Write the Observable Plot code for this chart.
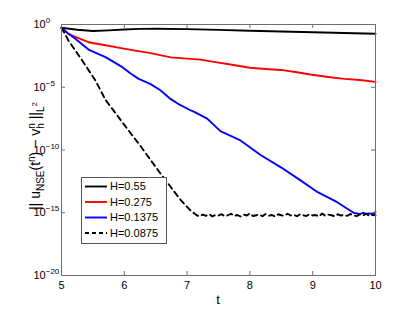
<!DOCTYPE html>
<html><head><meta charset="utf-8">
<script src="https://cdn.jsdelivr.net/npm/d3@7"></script>
<script src="https://cdn.jsdelivr.net/npm/@observablehq/plot@0.6"></script>
<style>body{margin:0;background:#fff} svg{font-family:"Liberation Sans",Arial,sans-serif}</style>
</head><body><div id="chart"></div>
<script>
const xTicks = [5, 6, 7, 8, 9, 10];
const yTickExps = [0, -5, -10, -15, -20];
const legendLabels = ["H=0.55", "H=0.275", "H=0.1375", "H=0.0875"];

// H=0.55 (log10 of error)
const tA = [5, 5.25, 5.5, 5.75, 6, 6.25, 6.5, 7, 7.5, 8, 8.5, 9, 9.5, 10];
const eA = [-0.26, -0.42, -0.52, -0.47, -0.4, -0.35, -0.34, -0.37, -0.43, -0.5, -0.56, -0.62, -0.68, -0.74];
// H=0.275
const tB = [5, 5.1, 5.2, 5.3, 5.43, 5.7, 5.97, 6.2, 6.42, 6.74, 7.0, 7.21, 7.45, 7.69, 8.0, 8.25, 8.49, 8.75, 8.96, 9.28, 9.5, 9.75, 10];
const eB = [-0.26, -0.7, -0.95, -1.15, -1.41, -1.65, -1.9, -2.1, -2.28, -2.62, -2.72, -2.8, -3.0, -3.19, -3.45, -3.55, -3.62, -3.8, -3.98, -4.2, -4.33, -4.42, -4.57];
// H=0.1375
const tC = [5, 5.1, 5.22, 5.43, 5.7, 5.97, 6.1, 6.23, 6.42, 6.58, 6.74, 6.85, 7.06, 7.13, 7.32, 7.53, 7.85, 8.17, 8.5, 8.8, 9.08, 9.39, 9.65, 9.7, 9.75, 9.8, 9.85, 9.9, 9.95, 10];
const eC = [-0.26, -0.7, -1.14, -2.0, -2.6, -3.4, -3.9, -4.33, -4.75, -5.26, -5.95, -6.3, -6.85, -7.0, -7.5, -8.5, -9.24, -10.4, -11.4, -12.4, -13.36, -14.16, -15.0, -15.05, -15.12, -15.0, -15.1, -15.05, -15.12, -14.95];
// H=0.0875
const tD = [5, 5.11, 5.33, 5.54, 5.7, 6.0, 6.26, 6.58, 6.9, 7.05, 7.15,
  7.2, 7.25, 7.3, 7.35, 7.4, 7.45, 7.5, 7.55, 7.6, 7.65, 7.7, 7.75, 7.8, 7.85, 7.9, 7.95,
  8.0, 8.05, 8.1, 8.15, 8.2, 8.25, 8.3, 8.35, 8.4, 8.45, 8.5, 8.55, 8.6, 8.65, 8.7, 8.75,
  8.8, 8.85, 8.9, 8.95, 9.0, 9.05, 9.1, 9.15, 9.2, 9.25, 9.3, 9.35, 9.4, 9.45, 9.5, 9.55,
  9.6, 9.65, 9.7, 9.75, 9.8, 9.85, 9.9, 9.95, 10];
const eD = [-0.26, -1.27, -2.87, -4.46, -6.0, -8.0, -9.7, -11.9, -14.0, -14.8, -15.2,
  -15.28, -15.15, -15.25, -15.1, -15.3, -15.18, -15.22, -15.12, -15.27, -15.2, -15.08, -15.25, -15.18, -15.3, -15.14,
  -15.22, -15.05, -15.26, -15.2, -15.15, -15.28, -15.1, -15.24, -15.18, -15.3, -15.12, -15.2, -15.25, -15.08, -15.22, -15.16,
  -15.28, -15.12, -15.2, -15.26, -15.1, -15.22, -15.18, -15.3, -15.06, -15.24, -15.15, -15.2, -15.28, -15.12, -15.22, -15.18,
  -15.25, -15.1, -15.2, -15.27, -15.14, -15.22, -15.08, -15.25, -15.18, -15.2];

const series = [
  {t: tA, e: eA, stroke: "#000000", dash: null},
  {t: tB, e: eB, stroke: "#ff0000", dash: null},
  {t: tC, e: eC, stroke: "#0000ff", dash: null},
  {t: tD, e: eD, stroke: "#000000", dash: "5.5,4"}
];
const rows = series.map((s, i) => s.t.map((t, j) => ({t, y: Math.pow(10, s.e[j]), H: legendLabels[i]})));
const yTicks = yTickExps.map(e => Math.pow(10, e));
const frameGray = "#6e6e6e";

const svg = Plot.plot({
  width: 415, height: 311,
  marginLeft: 61, marginRight: 40, marginTop: 24, marginBottom: 36,
  style: {fontSize: "11px", fontFamily: "'Liberation Sans', Arial, sans-serif", background: "#fff", color: "#000"},
  x: {domain: [5, 10], label: null},
  y: {type: "log", domain: [1e-20, 1], label: null},
  marks: [
    ...rows.map((r, i) => Plot.line(r, {x: "t", y: "y", stroke: series[i].stroke, strokeWidth: 1.9, strokeDasharray: series[i].dash})),
    Plot.frame({stroke: frameGray}),
    Plot.tickX(xTicks, {insetTop: 247, stroke: frameGray}),
    Plot.tickX(xTicks, {insetBottom: 247, stroke: frameGray}),
    Plot.tickY(yTicks, {insetRight: 310, stroke: frameGray}),
    Plot.tickY(yTicks, {insetLeft: 310, stroke: frameGray}),
    Plot.axisX({ticks: xTicks, tickSize: 0, tickPadding: 6, tickFormat: d => String(d), label: null}),
    Plot.axisY({ticks: yTicks, tickSize: 0, tickPadding: 28, textAnchor: "start", tickFormat: d => String(Math.round(Math.log10(d))), label: null})
  ]
});
document.getElementById("chart").appendChild(svg);

// superscript exponents for y tick labels
svg.querySelectorAll('[aria-label="y-axis tick label"] text').forEach(tx => {
  const ex = tx.textContent;
  tx.textContent = "";
  const s = d3.select(tx);
  s.append("tspan").text("10");
  s.append("tspan").attr("dy", "-5").attr("font-size", "8px").text(ex.replace("-", "\u2212"));
});

const root = d3.select(svg);
// x label
root.append("text").attr("x", 218).attr("y", 304).attr("text-anchor", "middle")
  .attr("font-size", "13px").text("t");

// y label
const yl = root.append("text").attr("transform", "translate(40,156) rotate(-90)")
  .attr("text-anchor", "middle").attr("font-size", "14px");
yl.append("tspan").text("|| u");
yl.append("tspan").attr("font-size", "10px").attr("dy", 3.5).text("NSE");
yl.append("tspan").attr("dy", -3.5).text("(t");
yl.append("tspan").attr("font-size", "10px").attr("dy", -5.5).text("n");
yl.append("tspan").attr("dy", 5.5).text(") \u2212 v");
yl.append("tspan").attr("font-size", "10px").attr("dy", 3.5).text("h");
yl.append("tspan").attr("font-size", "10px").attr("dx", -5.5).attr("dy", -9).text("n");
yl.append("tspan").attr("dy", 5.5).text(" ||");
yl.append("tspan").attr("font-size", "10px").attr("dy", 3.5).text("L");
yl.append("tspan").attr("font-size", "8px").attr("dy", -7).text("2");

// legend
const lg = root.append("g");
lg.append("rect").attr("x", 81.5).attr("y", 177.5).attr("width", 85).attr("height", 66)
  .attr("fill", "#fff").attr("stroke", "#555");
legendLabels.forEach((lab, i) => {
  const y = 186.5 + i * 15.5;
  lg.append("line").attr("x1", 85).attr("x2", 107).attr("y1", y).attr("y2", y)
    .attr("stroke", series[i].stroke).attr("stroke-width", 1.9)
    .attr("stroke-dasharray", series[i].dash ? "4,3" : null);
  lg.append("text").attr("x", 110).attr("y", y).attr("dy", "0.35em").attr("text-anchor", "start")
    .attr("font-size", "11px").text(lab);
});
</script>
</body></html>
